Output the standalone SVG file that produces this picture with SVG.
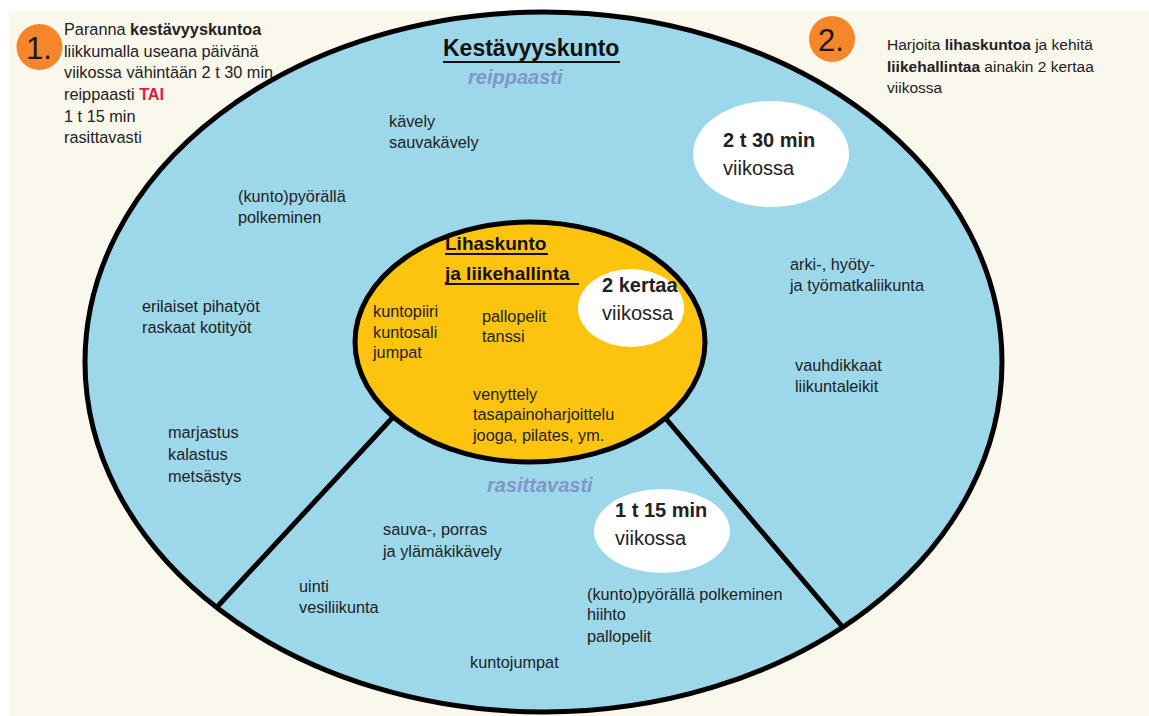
<svg xmlns="http://www.w3.org/2000/svg" width="1149" height="716" viewBox="0 0 1149 716">
<style>
text{font-family:"Liberation Sans",Arial,sans-serif;fill:#222;}
.b{font-size:16.3px;}
.s{font-size:15.5px;}
.bold{font-weight:bold;}
.big{font-size:20px;}
.sub{font-size:20px;font-weight:bold;font-style:italic;fill:#8096c8;}
.num{font-size:31px;fill:#1a1a1a;}
.ul{stroke:#111;stroke-width:2;}
.edge{stroke:#000;stroke-width:5;fill:none;stroke-linecap:round;}
</style>
<rect x="0" y="0" width="1149" height="716" fill="#ffffff"/>
<rect x="9" y="11" width="1140" height="705" fill="#faf7ec"/>

<g id="outer">
<ellipse cx="543.5" cy="362" rx="458.5" ry="350" fill="#9dd8ea" stroke="#000" stroke-width="5"/>
</g>

<g id="connectors">
<line class="edge" x1="420" y1="388" x2="217" y2="607"/>
<line class="edge" x1="645" y1="394" x2="841" y2="625"/>
</g>

<g id="inner">
<ellipse cx="530" cy="342" rx="175" ry="120" fill="#fdc40f" stroke="#000" stroke-width="5"/>
</g>

<g id="badge1">
<circle cx="39.5" cy="47" r="23" fill="#f6862a"/>
<text class="num" x="26" y="59">1.</text>
</g>
<g id="badge2">
<circle cx="832" cy="39" r="23" fill="#f6862a"/>
<text class="num" x="818" y="51">2.</text>
</g>

<g id="note1">
<text class="b" x="64" y="35">Paranna <tspan class="bold">kestävyyskuntoa</tspan></text>
<text class="b" x="64" y="57">liikkumalla useana päivänä</text>
<text class="b" x="64" y="78">viikossa vähintään 2 t 30 min</text>
<text class="b" x="64" y="100">reippaasti <tspan class="bold" style="fill:#e8173c">TAI</tspan></text>
<text class="b" x="64" y="122">1 t 15 min</text>
<text class="b" x="64" y="143">rasittavasti</text>
</g>

<g id="note2">
<text class="s" x="887" y="50">Harjoita <tspan class="bold">lihaskuntoa</tspan> ja kehitä</text>
<text class="s" x="887" y="72"><tspan class="bold">liikehallintaa</tspan> ainakin 2 kertaa</text>
<text class="s" x="887" y="93">viikossa</text>
</g>

<g id="title">
<text x="443" y="56" style="font-size:23px;font-weight:bold;fill:#111">Kestävyyskunto</text>
<line class="ul" x1="443" y1="62" x2="620" y2="62"/>
<text class="sub" x="468" y="84">reippaasti</text>
</g>

<g id="bubble-2t30">
<ellipse cx="771" cy="154" rx="78" ry="53" fill="#fff"/>
<text class="big bold" x="723" y="147">2 t 30 min</text>
<text class="big" x="723" y="175">viikossa</text>
</g>

<g id="outer-labels">
<text class="b" x="389" y="127">kävely</text>
<text class="b" x="389" y="148">sauvakävely</text>
<text class="b" x="238" y="202">(kunto)pyörällä</text>
<text class="b" x="238" y="223">polkeminen</text>
<text class="b" x="142" y="312">erilaiset pihatyöt</text>
<text class="b" x="142" y="333">raskaat kotityöt</text>
<text class="b" x="168" y="438">marjastus</text>
<text class="b" x="168" y="460">kalastus</text>
<text class="b" x="168" y="482">metsästys</text>
<text class="b" x="790" y="270">arki-, hyöty-</text>
<text class="b" x="790" y="291">ja työmatkaliikunta</text>
<text class="b" x="795" y="371">vauhdikkaat</text>
<text class="b" x="795" y="392">liikuntaleikit</text>
</g>

<g id="inner-labels">
<text x="445" y="250" style="font-size:19px;font-weight:bold;fill:#111">Lihaskunto</text>
<line class="ul" x1="445" y1="254" x2="548" y2="254"/>
<text x="445" y="280" style="font-size:19px;font-weight:bold;fill:#111">ja liikehallinta</text>
<line class="ul" x1="445" y1="284" x2="579" y2="284"/>
<text class="b" x="373" y="317">kuntopiiri</text>
<text class="b" x="373" y="338">kuntosali</text>
<text class="b" x="373" y="358">jumpat</text>
<text class="b" x="482" y="322">pallopelit</text>
<text class="b" x="482" y="342">tanssi</text>
<text class="b" x="473" y="400">venyttely</text>
<text class="b" x="473" y="420">tasapainoharjoittelu</text>
<text class="b" x="473" y="441">jooga, pilates, ym.</text>
</g>

<g id="bubble-2kertaa">
<ellipse cx="631" cy="308" rx="53" ry="39" fill="#fff"/>
<text class="big bold" x="602" y="292">2 kertaa</text>
<text class="big" x="602" y="320">viikossa</text>
</g>

<g id="lower-section">
<text class="sub" x="487" y="492">rasittavasti</text>
<text class="b" x="383" y="535">sauva-, porras</text>
<text class="b" x="383" y="557">ja ylämäkikävely</text>
<text class="b" x="299" y="592">uinti</text>
<text class="b" x="299" y="613">vesiliikunta</text>
<text class="b" x="587" y="600">(kunto)pyörällä polkeminen</text>
<text class="b" x="587" y="620">hiihto</text>
<text class="b" x="587" y="642">pallopelit</text>
<text class="b" x="470" y="668">kuntojumpat</text>
</g>

<g id="bubble-1t15">
<ellipse cx="662" cy="531" rx="68" ry="42" fill="#fff"/>
<text class="big bold" x="615" y="517">1 t 15 min</text>
<text class="big" x="615" y="545">viikossa</text>
</g>
</svg>
